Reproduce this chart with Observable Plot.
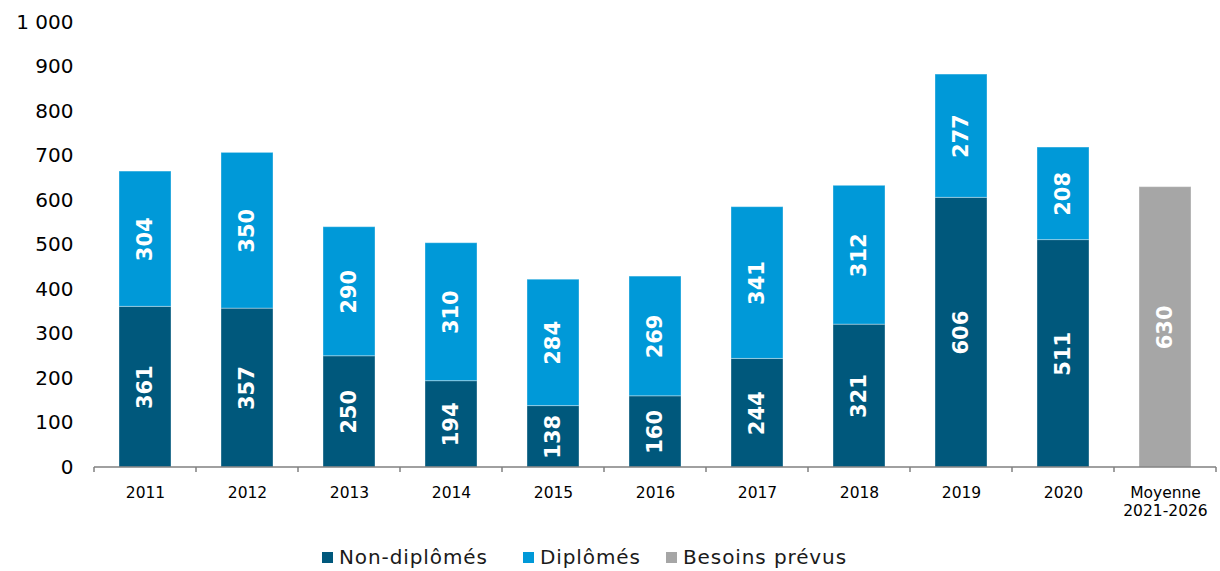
<!DOCTYPE html>
<html>
<head>
<meta charset="utf-8">
<script src="https://cdn.jsdelivr.net/npm/d3@7"></script>
<script src="https://cdn.jsdelivr.net/npm/@observablehq/plot@0.6"></script>
<style>
  html, body { margin: 0; padding: 0; background: #fff; }
  body { width: 1220px; height: 571px; position: relative; overflow: hidden; font-family: "DejaVu Sans", Verdana, sans-serif; }
  #chart { position: absolute; left: 0; top: 0; }
  .legend { position: absolute; top: 545px; left: 0; width: 1220px; height: 26px; font-size: 20px; letter-spacing: 0.9px; color: #1a1a1a; }
  .item { position: absolute; top: 0; display: flex; align-items: center; white-space: nowrap; }
  .sw { width: 11px; height: 11px; margin-right: 6px; }
</style>
</head>
<body>
<div id="chart"></div>
<div class="legend" id="legend"></div>
<script>
const categories = ["2011","2012","2013","2014","2015","2016","2017","2018","2019","2020","Moyenne\n2021-2026"];
const years = ["2011","2012","2013","2014","2015","2016","2017","2018","2019","2020"];
const nonDiplomes = [361,357,250,194,138,160,244,321,606,511];
const diplomes = [304,350,290,310,284,269,341,312,277,208];
const besoinsCategory = "Moyenne\n2021-2026";
const besoinsPrevus = [630];
const seriesNames = ["Non-diplômés","Diplômés","Besoins prévus"];
const seriesColors = ["#00587c","#0099d8","#a6a6a6"];
const yTicks = [0,100,200,300,400,500,600,700,800,900,1000];

const rows = [];
years.forEach((y, i) => rows.push({cat: y, series: seriesNames[0], value: nonDiplomes[i]}));
years.forEach((y, i) => rows.push({cat: y, series: seriesNames[1], value: diplomes[i]}));
besoinsPrevus.forEach(v => rows.push({cat: besoinsCategory, series: seriesNames[2], value: v}));

const fmt = d3.formatLocale({decimal: ",", thousands: "\u00a0", grouping: [3], currency: ["", " €"]}).format(",d");

const axisMark = (index, scales, values, dimensions) => {
  const x = scales.x, y = scales.y;
  const bw = x.bandwidth ? x.bandwidth() : 0;
  const x0 = x(categories[0]), x1 = x(categories[1]);
  const step = x1 - x0;
  const y0 = y(0);
  const g = d3.create("svg:g").attr("stroke", "#808080").attr("stroke-width", 1.5);
  const left = x0 + bw / 2 - step / 2;
  g.append("line").attr("x1", left).attr("x2", left + step * categories.length).attr("y1", y0).attr("y2", y0);
  for (let i = 0; i <= categories.length; i++) {
    const xx = left + step * i;
    g.append("line").attr("x1", xx).attr("x2", xx).attr("y1", y0).attr("y2", y0 + 5);
  }
  return g.node();
};

const chart = Plot.plot({
  width: 1220,
  height: 530,
  marginTop: 22,
  marginBottom: 63,
  marginLeft: 93,
  marginRight: 2,
  style: {fontFamily: "'DejaVu Sans', Verdana, sans-serif", background: "#fff", color: "#1a1a1a"},
  x: {domain: categories, paddingInner: 0.49, paddingOuter: 0.245, label: null},
  y: {domain: [0, 1000], label: null},
  color: {domain: seriesNames, range: seriesColors},
  marks: [
    Plot.axisY({ticks: yTicks, tickSize: 0, tickPadding: 20, tickFormat: fmt, fontSize: 20, label: null, fill: "#000", style: {letterSpacing: "0.6px"}}),
    Plot.axisX({tickSize: 0, tickPadding: 17, fontSize: 15.5, label: null, lineHeight: 1.2, fill: "#000", style: {letterSpacing: "0.5px"}}),
    Plot.barY(rows, Plot.stackY({x: "cat", y: "value", z: "series", fill: "series", order: seriesNames, stroke: "#ffffff", strokeOpacity: 0.35, strokeWidth: 1})),
    Plot.text(rows, Plot.stackY({x: "cat", y: "value", z: "series", order: seriesNames, text: d => String(d.value), rotate: -90, fill: "white", fontWeight: "bold", fontSize: 21, style: {letterSpacing: "0.8px"}})),
    axisMark
  ]
});
document.getElementById("chart").appendChild(chart);

const legend = document.getElementById("legend");
const lefts = [322, 523, 666];
seriesNames.forEach((name, i) => {
  const it = document.createElement("div");
  it.className = "item";
  it.style.left = lefts[i] + "px";
  const sw = document.createElement("div");
  sw.className = "sw";
  sw.style.background = seriesColors[i];
  const t = document.createElement("span");
  t.textContent = name;
  it.appendChild(sw); it.appendChild(t);
  legend.appendChild(it);
});
</script>
</body>
</html>
